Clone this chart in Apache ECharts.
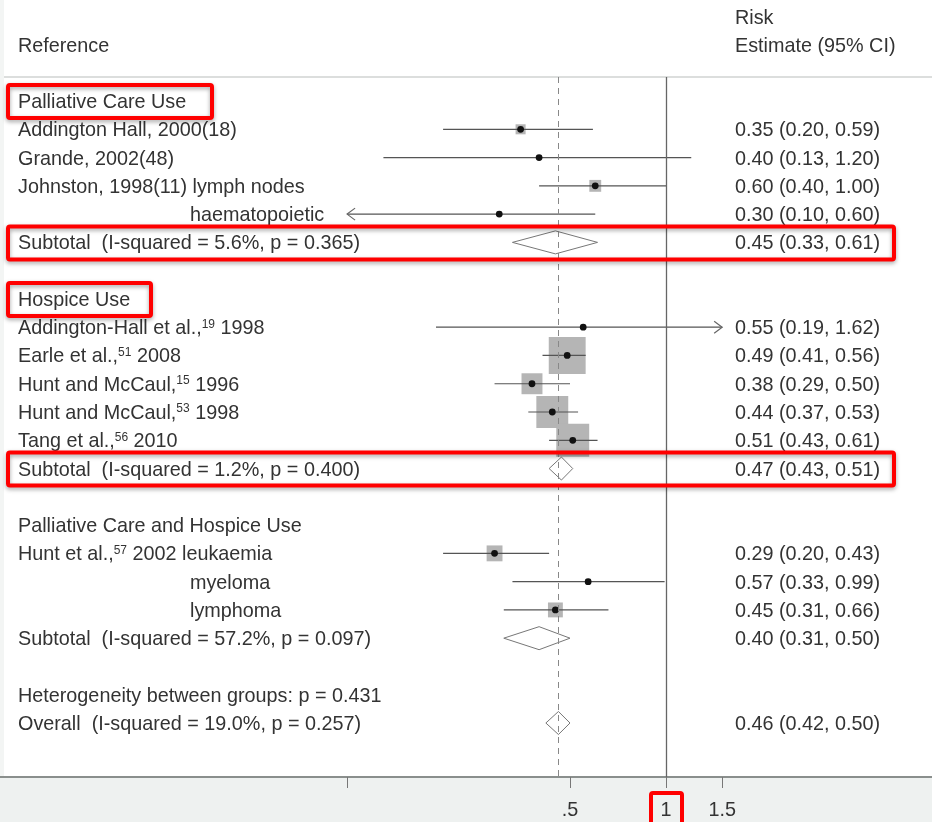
<!DOCTYPE html>
<html>
<head>
<meta charset="utf-8">
<script src="https://cdn.jsdelivr.net/npm/echarts@6/dist/echarts.min.js"></script>
<style>
html,body{margin:0;padding:0;background:#fff;}
#chart{width:932px;height:822px;}
</style>
</head>
<body>
<div id="chart"></div>
<script>
// ---------------- DATA ----------------
const rowLabels = [
  'Palliative Care Use',
  'Addington Hall, 2000(18)',
  'Grande, 2002(48)',
  'Johnston, 1998(11) lymph nodes',
  'haematopoietic',
  'Subtotal  (I-squared = 5.6%, p = 0.365)',
  '',
  'Hospice Use',
  'Addington-Hall et al.,{sup|19} 1998',
  'Earle et al.,{sup|51} 2008',
  'Hunt and McCaul,{sup|15} 1996',
  'Hunt and McCaul,{sup|53} 1998',
  'Tang et al.,{sup|56} 2010',
  'Subtotal  (I-squared = 1.2%, p = 0.400)',
  '',
  'Palliative Care and Hospice Use',
  'Hunt et al.,{sup|57} 2002 leukaemia',
  'myeloma',
  'lymphoma',
  'Subtotal  (I-squared = 57.2%, p = 0.097)',
  '',
  'Heterogeneity between groups: p = 0.431',
  'Overall  (I-squared = 19.0%, p = 0.257)'
];
const rowEstimates = [
  '', '0.35 (0.20, 0.59)', '0.40 (0.13, 1.20)', '0.60 (0.40, 1.00)', '0.30 (0.10, 0.60)',
  '0.45 (0.33, 0.61)', '', '', '0.55 (0.19, 1.62)', '0.49 (0.41, 0.56)', '0.38 (0.29, 0.50)',
  '0.44 (0.37, 0.53)', '0.51 (0.43, 0.61)', '0.47 (0.43, 0.51)', '', '',
  '0.29 (0.20, 0.43)', '0.57 (0.33, 0.99)', '0.45 (0.31, 0.66)', '0.40 (0.31, 0.50)', '', '',
  '0.46 (0.42, 0.50)'
];
// individual studies
const studyRows   = [1, 2, 3, 4, 8, 9, 10, 11, 12, 16, 17, 18];
const studyEst    = [0.35, 0.40, 0.60, 0.30, 0.55, 0.49, 0.38, 0.44, 0.51, 0.29, 0.57, 0.45];
const studyLo     = [0.20, 0.13, 0.40, 0.10, 0.19, 0.41, 0.29, 0.37, 0.43, 0.20, 0.33, 0.31];
const studyHi     = [0.59, 1.20, 1.00, 0.60, 1.62, 0.56, 0.50, 0.53, 0.61, 0.43, 0.99, 0.66];
const studyWeight = [2.0, 0.4, 2.8, 0.5, 0.4, 27.0, 8.7, 20.2, 21.5, 5.0, 0.6, 4.4];
// pooled estimates
const pooledRows = [5, 13, 19, 22];
const pooledEst  = [0.45, 0.47, 0.40, 0.46];
const pooledLo   = [0.33, 0.43, 0.31, 0.42];
const pooledHi   = [0.61, 0.51, 0.50, 0.50];
const overallEst = 0.46;
const nullValue = 1;
// axis
const xTickValues = [0.1, 0.5, 1, 1.5];
const xTickLabels = ['', '.5', '1', '1.5'];
const plotMin = 0.1, plotMax = 1.5;

// ---------------- LAYOUT / STYLE ----------------
const FONT = "'Liberation Sans', Arial, Helvetica, sans-serif";
const TXT = '#333333';
const FS = 19.8;
const TY = 1.5; // small vertical text offset
const indentedRows = [4, 17, 18];
const highlightRows = [0, 5, 7, 13];

const chart = echarts.init(document.getElementById('chart'));
const ln = Math.log;

const studyData = studyRows.map((r, i) => [r, studyEst[i], studyLo[i], studyHi[i], studyWeight[i]]);
const pooledData = pooledRows.map((r, i) => [r, pooledEst[i], pooledLo[i], pooledHi[i]]);
const labelData = rowLabels.map((t, i) => [i]);

function studyRender(params, api) {
  const row = api.value(0), est = api.value(1), lo = api.value(2), hi = api.value(3), w = api.value(4);
  const cLo = Math.max(lo, plotMin), cHi = Math.min(hi, plotMax);
  const pE = api.coord([ln(est), row]);
  const pL = api.coord([ln(cLo), row]);
  const pH = api.coord([ln(cHi), row]);
  const side = 7.1 * Math.sqrt(w);
  const children = [];
  children.push({type: 'rect', shape: {x: pE[0] - side / 2, y: pE[1] - side / 2, width: side, height: side},
    style: {fill: '#b5b5b5'}});
  children.push({type: 'line', shape: {x1: pL[0], y1: pL[1], x2: pH[0], y2: pH[1]},
    style: {stroke: '#555', lineWidth: 1.2}});
  if (lo <= plotMin) {
    children.push({type: 'polyline', shape: {points: [[pL[0] + 8, pL[1] - 6], [pL[0], pL[1]], [pL[0] + 8, pL[1] + 6]]},
      style: {stroke: '#666', lineWidth: 1.2, fill: null}});
  }
  if (hi > plotMax) {
    children.push({type: 'polyline', shape: {points: [[pH[0] - 8, pH[1] - 6], [pH[0], pH[1]], [pH[0] - 8, pH[1] + 6]]},
      style: {stroke: '#666', lineWidth: 1.2, fill: null}});
  }
  children.push({type: 'circle', shape: {cx: pE[0], cy: pE[1], r: 3.4}, style: {fill: '#111'}});
  return {type: 'group', children};
}

function pooledRender(params, api) {
  const row = api.value(0);
  const pE = api.coord([ln(api.value(1)), row]);
  const pL = api.coord([ln(api.value(2)), row]);
  const pH = api.coord([ln(api.value(3)), row]);
  const h = 11.5;
  return {type: 'polygon', shape: {points: [[pL[0], pL[1]], [pE[0], pE[1] - h], [pH[0], pH[1]], [pE[0], pE[1] + h]]},
    style: {fill: null, stroke: '#777', lineWidth: 1}};
}

function labelRender(params, api) {
  const row = api.value(0);
  const p = api.coord([0, row]);
  const x = indentedRows.indexOf(row) >= 0 ? 190 : 18;
  const children = [{
    type: 'text', x: x, y: p[1] + TY,
    style: {text: rowLabels[row], fill: TXT, font: FS + 'px ' + FONT, verticalAlign: 'middle', align: 'left',
      rich: {sup: {fontSize: 12, fontFamily: FONT, fill: TXT, verticalAlign: 'top', padding: [0, 0, 9, 0]}}}
  }];
  if (rowEstimates[row]) {
    children.push({type: 'text', x: 735, y: p[1] + TY,
      style: {text: rowEstimates[row], fill: TXT, font: FS + 'px ' + FONT, verticalAlign: 'middle', align: 'left'}});
  }
  return {type: 'group', children};
}

const option = {
  backgroundColor: '#ffffff',
  animation: false,
  grid: {left: 0, right: 0, top: 77, bottom: 45},
  xAxis: {
    type: 'value',
    min: -666 / 138.5,
    max: 266 / 138.5,
    splitLine: {show: false},
    axisLine: {show: true, onZero: false, lineStyle: {color: '#8a8f8d', width: 2}},
    axisTick: {show: true, length: 11, customValues: xTickValues.map(v => ln(v)), lineStyle: {color: '#777', width: 1}},
    axisLabel: {
      show: true, margin: 24, fontSize: FS, fontFamily: FONT, color: TXT,
      customValues: xTickValues.map(v => ln(v)),
      formatter: function (v) {
        let best = 0;
        xTickValues.forEach((t, i) => { if (Math.abs(ln(t) - v) < Math.abs(ln(xTickValues[best]) - v)) best = i; });
        return xTickLabels[best];
      }
    }
  },
  yAxis: {
    type: 'value', inverse: true, min: -0.85, max: 23.91, show: false
  },
  series: [
    {
      type: 'custom', name: 'refs', data: [[0, 0]], renderItem: () => ({type: 'group', children: []}),
      markLine: {
        silent: true, symbol: 'none', label: {show: false},
        data: [
          {xAxis: ln(nullValue), lineStyle: {color: '#666', width: 1.3, type: 'solid'}},
          {xAxis: ln(overallEst), lineStyle: {color: '#888', width: 1, type: [6, 5]}}
        ]
      },
      z: 1
    },
    {type: 'custom', name: 'studies', data: studyData, renderItem: studyRender, encode: {x: 1, y: 0}, z: 3},
    {type: 'custom', name: 'pooled', data: pooledData, renderItem: pooledRender, encode: {x: 1, y: 0}, z: 3},
    {type: 'custom', name: 'labels', data: labelData, renderItem: labelRender, encode: {y: 0}, z: 4, clip: false}
  ],
  graphic: [
    {type: 'rect', z: -10, shape: {x: 0, y: 778, width: 932, height: 44}, style: {fill: '#eef1f0'}},
    {type: 'rect', z: -10, shape: {x: 0, y: 0, width: 4, height: 778}, style: {fill: '#f3f5f4'}},
    {type: 'line', z: 2, shape: {x1: 4, y1: 77, x2: 932, y2: 77}, style: {stroke: '#d0d3d2', lineWidth: 1.5}},
    {type: 'text', x: 18, y: 45 + TY, style: {text: 'Reference', fill: TXT, font: FS + 'px ' + FONT, verticalAlign: 'middle'}},
    {type: 'text', x: 735, y: 17 + TY, style: {text: 'Risk', fill: TXT, font: FS + 'px ' + FONT, verticalAlign: 'middle'}},
    {type: 'text', x: 735, y: 45 + TY, style: {text: 'Estimate (95% CI)', fill: TXT, font: FS + 'px ' + FONT, verticalAlign: 'middle'}}
  ]
};
chart.setOption(option);

// red highlight boxes, positioned from the row scale
const boxes = [];
const boxSpec = {0: [8, 212], 5: [8, 894], 7: [8, 151], 13: [8, 894]};
highlightRows.forEach(r => {
  const y = chart.convertToPixel({gridIndex: 0}, [0, r])[1];
  const [x1, x2] = boxSpec[r];
  boxes.push({type: 'rect', z: 100, shape: {x: x1, y: y - 16, width: x2 - x1, height: 33, r: 2},
    style: {fill: null, stroke: '#ff0000', lineWidth: 4, shadowBlur: 4, shadowColor: 'rgba(0,0,0,0.35)', shadowOffsetY: 2}});
});
const xOne = chart.convertToPixel({gridIndex: 0}, [ln(1), 0])[0];
boxes.push({type: 'rect', z: 100, shape: {x: xOne - 15, y: 793, width: 31, height: 40, r: 2},
  style: {fill: null, stroke: '#ff0000', lineWidth: 4}});
chart.setOption({graphic: option.graphic.concat(boxes)});
</script>
</body>
</html>
